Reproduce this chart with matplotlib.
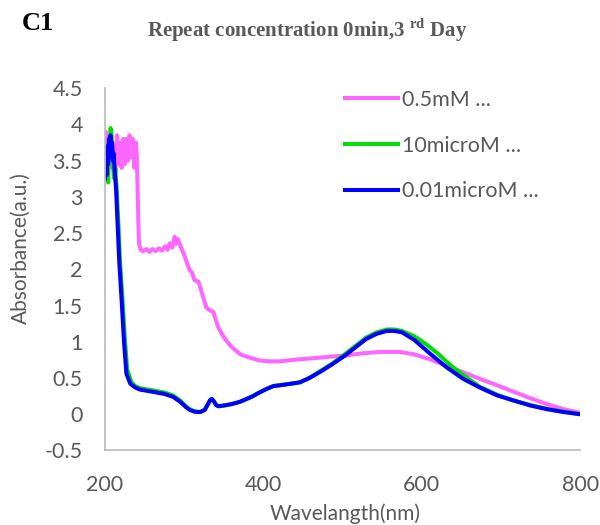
import matplotlib
matplotlib.use("Agg")
import matplotlib.pyplot as plt

plt.rcParams['mathtext.fontset'] = 'custom'
plt.rcParams['mathtext.bf'] = 'Liberation Serif:bold'
plt.rcParams['mathtext.rm'] = 'Liberation Serif:bold'

# UV-vis spectra (wavelength in nm, absorbance in a.u.)
wl_05mM = [200, 201, 202, 203, 205, 207, 209, 211, 213, 215, 217, 219, 221, 223, 225, 227, 229,
           231, 233, 235, 237, 239, 240, 241, 242, 243, 245, 248, 252, 256, 260, 264, 268, 272,
           276, 279, 282, 285, 288, 290, 292, 295, 298, 301, 304, 307, 310, 313, 318, 323, 328,
           333, 337, 340, 343, 348, 353, 358, 365, 372, 383, 396, 408, 421, 437, 460, 480, 503,
           525, 547, 572, 589, 610, 631, 652, 673, 695, 716, 737, 758, 779, 800]
abs_05mM = [3.35, 3.9, 3.6, 3.85, 3.5, 3.8, 3.4, 3.7, 3.35, 3.85, 3.45, 3.75, 3.4, 3.8, 3.45, 3.8, 3.5,
            3.85, 3.55, 3.8, 3.4, 3.75, 3.6, 3.2, 2.7, 2.35, 2.27, 2.25, 2.28, 2.24, 2.28, 2.25, 2.29, 2.26,
            2.32, 2.27, 2.36, 2.3, 2.45, 2.35, 2.42, 2.33, 2.25, 2.17, 2.07, 1.99, 1.95, 1.85, 1.83, 1.65, 1.47,
            1.43, 1.41, 1.3, 1.2, 1.1, 1.02, 0.95, 0.88, 0.82, 0.78, 0.74, 0.73, 0.73, 0.75, 0.77, 0.79, 0.81,
            0.84, 0.86, 0.86, 0.83, 0.76, 0.67, 0.58, 0.49, 0.40, 0.31, 0.22, 0.14, 0.07, 0.02]

wl_10uM = [200, 202, 204, 205, 206, 207, 208, 209, 210, 211, 212, 213, 215, 217, 219, 222, 225, 228,
           233, 238, 244, 260, 275, 286, 295, 302, 307, 313, 320, 326, 330, 333, 335, 338, 340, 343,
           350, 360, 370, 385, 395, 404, 413, 421, 434, 446, 458, 471, 487, 503, 517, 530, 543, 556,
           565, 575, 590, 605, 620, 638, 655, 673, 695, 715, 740, 760, 783, 800]
abs_10uM = [3.3, 3.7, 3.2, 3.8, 3.6, 3.95, 3.9, 3.7, 3.5, 3.3, 3.25, 3.4, 3.05, 2.6, 2.1, 1.6, 1.05, 0.62,
            0.45, 0.39, 0.36, 0.33, 0.3, 0.26, 0.19, 0.11, 0.07, 0.04, 0.03, 0.06, 0.14, 0.2, 0.21, 0.17, 0.13, 0.11,
            0.12, 0.14, 0.17, 0.24, 0.3, 0.35, 0.39, 0.40, 0.42, 0.44, 0.5, 0.59, 0.7, 0.83, 0.95, 1.06, 1.13, 1.17,
            1.17, 1.15, 1.08, 0.97, 0.84, 0.66, 0.52, 0.38, 0.27, 0.19, 0.12, 0.07, 0.03, 0.0]

wl_001uM = [200, 201, 202, 203, 204, 205, 206, 207, 208, 209, 210, 211, 212, 214, 216, 218, 221, 224,
            227, 232, 238, 244, 260, 275, 286, 295, 302, 307, 313, 320, 326, 330, 333, 335, 338, 340,
            343, 350, 360, 370, 385, 395, 404, 413, 421, 434, 446, 458, 471, 487, 503, 517, 530, 543,
            556, 565, 575, 590, 610, 631, 652, 673, 695, 716, 737, 758, 779, 800]
abs_001uM = [3.25, 3.6, 3.3, 3.7, 3.45, 3.8, 3.55, 3.85, 3.6, 3.75, 3.5, 3.6, 3.4, 3.1, 2.6, 2.1, 1.57, 1.0,
             0.56, 0.42, 0.37, 0.34, 0.31, 0.28, 0.24, 0.17, 0.1, 0.06, 0.035, 0.03, 0.06, 0.14, 0.2, 0.21, 0.17, 0.13,
             0.11, 0.12, 0.14, 0.17, 0.24, 0.3, 0.35, 0.39, 0.40, 0.42, 0.44, 0.5, 0.58, 0.69, 0.81, 0.93, 1.04, 1.11,
             1.15, 1.15, 1.13, 1.03, 0.84, 0.65, 0.49, 0.37, 0.26, 0.19, 0.12, 0.07, 0.03, 0.0]

labels = ["0.5mM ...", "10microM ...", "0.01microM ..."]
colors = ["#FF66FF", "#00DD00", "#0000FF"]

x_ticks = [200, 400, 600, 800]
y_ticks = [-0.5, 0, 0.5, 1, 1.5, 2, 2.5, 3, 3.5, 4, 4.5]
y_tick_labels = ["-0.5", "0", "0.5", "1", "1.5", "2", "2.5", "3", "3.5", "4", "4.5"]

text_gray = "#595959"
sans = "Lato"

fig = plt.figure(figsize=(6, 5.25), dpi=100)
ax = fig.add_axes([0.175, 0.142, 0.792, 0.690])

for wl, ab, lab, col in zip([wl_05mM, wl_10uM, wl_001uM], [abs_05mM, abs_10uM, abs_001uM], labels, colors):
    ax.plot(wl, ab, color=col, lw=2.9, label=lab, solid_joinstyle="round")

ax.set_xlim(200, 800)
ax.set_ylim(-0.5, 4.5)
ax.set_xticks(x_ticks)
ax.set_yticks(y_ticks)
ax.set_yticklabels(y_tick_labels)
ax.tick_params(length=0, labelsize=15.5, labelcolor=text_gray)
ax.tick_params(axis="x", pad=18)
ax.tick_params(axis="y", pad=16)
for t in ax.get_xticklabels() + ax.get_yticklabels():
    t.set_fontfamily(sans)

for s in ["top", "right"]:
    ax.spines[s].set_visible(False)
for s in ["left", "bottom"]:
    ax.spines[s].set_color("#BFBFBF")
    ax.spines[s].set_linewidth(1.3)

ax.set_xlabel("Wavelangth(nm)", fontsize=15, color=text_gray, family=sans)
ax.set_ylabel("Absorbance(a.u.)", fontsize=15, color=text_gray, family=sans)
ax.xaxis.set_label_coords(0.505, -0.147)
ax.yaxis.set_label_coords(-0.156, 0.56)

leg = ax.legend(loc="upper left", bbox_to_anchor=(0.575, 0.829), bbox_transform=fig.transFigure,
                frameon=False, borderpad=0, borderaxespad=0, handlelength=2.45,
                handletextpad=0.22, labelspacing=1.2, prop={"family": sans, "size": 15.5})
for t in leg.get_texts():
    t.set_color(text_gray)

fig.text(0.037, 0.955, "C1", fontsize=19, fontweight="bold", family="Liberation Serif",
         va="center", ha="left", color="black")
fig.text(0.512, 0.942, r"Repeat concentration 0min,3 $^{\mathbf{rd}}$ Day", fontsize=15,
         fontweight="bold", family="Liberation Serif", va="center", ha="center", color=text_gray)

fig.savefig("out.png", dpi=100)
